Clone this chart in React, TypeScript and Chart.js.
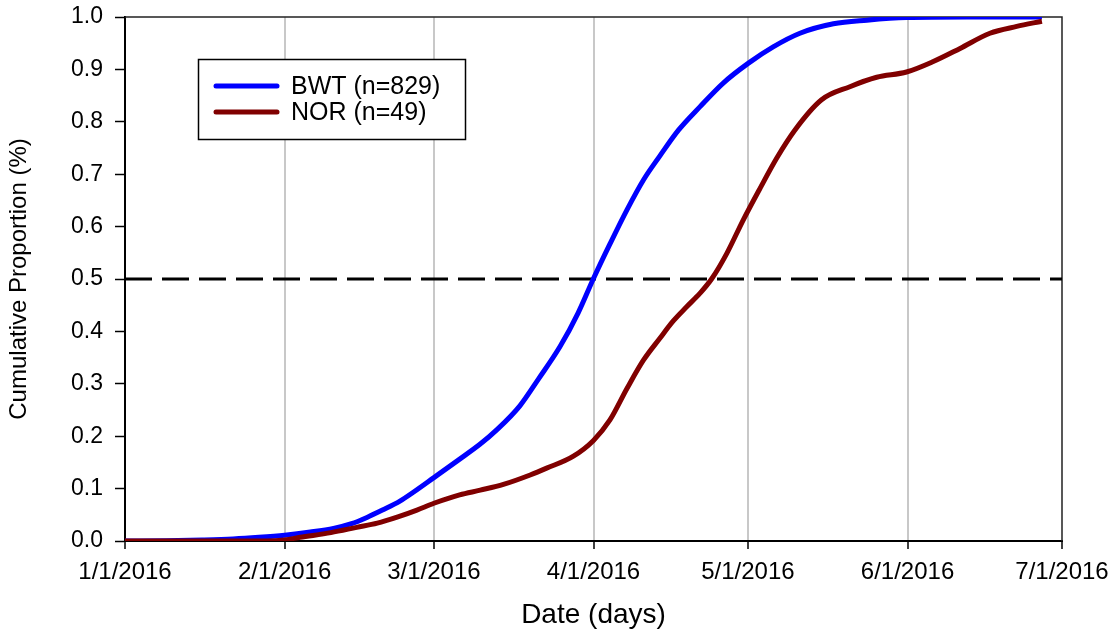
import React, { useEffect, useRef } from "react";
import { Chart, registerables } from "chart.js";

Chart.register(...registerables);

const xTickDays = [0, 31, 60, 91, 121, 152, 182];
const xTickLabels = ["1/1/2016", "2/1/2016", "3/1/2016", "4/1/2016", "5/1/2016", "6/1/2016", "7/1/2016"];

const seriesLabels = ["BWT (n=829)", "NOR (n=49)"];
const seriesColors = ["#0000ff", "#800000"];

const bwtDays = [0, 8, 15, 21, 26, 31, 36, 40.5, 44, 47, 50, 53.4, 56, 60, 64.4, 69, 72.2, 76.7, 80.3, 84.5, 88, 91, 94.2, 97.5, 100.7, 103.9, 107.5, 111.7, 116.2, 121.1, 125.9, 131.1, 137.6, 144.1, 151.8, 163.5, 178.1];
const bwtValues = [0, 0.0005, 0.002, 0.004, 0.007, 0.011, 0.017, 0.024, 0.033, 0.045, 0.059, 0.076, 0.093, 0.121, 0.152, 0.185, 0.212, 0.258, 0.309, 0.371, 0.435, 0.501, 0.567, 0.632, 0.689, 0.735, 0.784, 0.829, 0.874, 0.912, 0.943, 0.969, 0.987, 0.994, 0.999, 1.0, 1.0];

const norDays = [0, 15, 27.5, 31, 34, 40, 45, 49, 53, 56.7, 60, 65, 69, 73.5, 78.7, 81.9, 87.1, 91, 94.2, 97.5, 100.7, 103.9, 106.5, 109.1, 111.7, 114, 116.9, 120.1, 123.4, 126.6, 130.1, 135.3, 140.8, 146, 151.8, 157, 162.2, 168, 173.2, 178.1];
const norValues = [0, 0, 0, 0.002, 0.007, 0.016, 0.026, 0.034, 0.046, 0.059, 0.072, 0.088, 0.097, 0.108, 0.126, 0.139, 0.162, 0.192, 0.231, 0.291, 0.345, 0.387, 0.42, 0.447, 0.473, 0.501, 0.549, 0.613, 0.674, 0.731, 0.784, 0.842, 0.867, 0.885, 0.895, 0.915, 0.94, 0.969, 0.982, 0.992];

const refDays = [0, 182];
const refValues = [0.5, 0.5];

const FONT = "'Liberation Sans', Arial, sans-serif";

const toPoints = (xs: number[], ys: number[]) => xs.map((x, i) => ({ x, y: ys[i] }));

const zeroPad = (scale: any) => {
  scale.paddingTop = 0;
  scale.paddingBottom = 0;
  scale.paddingLeft = 0;
  scale.paddingRight = 0;
};

const framePlugin = {
  id: "frame",
  beforeDatasetsDraw(chart: any) {
    const { ctx, chartArea } = chart;
    ctx.save();
    ctx.strokeStyle = "#222";
    ctx.lineWidth = 1.5;
    ctx.beginPath();
    ctx.moveTo(chartArea.left, chartArea.top);
    ctx.lineTo(chartArea.right, chartArea.top);
    ctx.lineTo(chartArea.right, chartArea.bottom);
    ctx.stroke();
    ctx.restore();
  },
};

const legendPlugin = {
  id: "boxLegend",
  afterDatasetsDraw(chart: any) {
    const { ctx } = chart;
    ctx.save();
    ctx.fillStyle = "#fff";
    ctx.fillRect(198, 59, 268, 80);
    ctx.strokeStyle = "#000";
    ctx.lineWidth = 1.5;
    ctx.strokeRect(198.5, 59.5, 267, 80);
    const rows = [86, 112];
    seriesLabels.forEach((label, i) => {
      const y = rows[i];
      ctx.strokeStyle = seriesColors[i];
      ctx.lineWidth = 5;
      ctx.lineCap = "round";
      ctx.beginPath();
      ctx.moveTo(216, y);
      ctx.lineTo(277, y);
      ctx.stroke();
      ctx.fillStyle = "#000";
      ctx.font = `25px ${FONT}`;
      ctx.textBaseline = "middle";
      ctx.textAlign = "left";
      ctx.fillText(label, 291, y + 1);
    });
    ctx.restore();
  },
};

export default function App() {
  const canvasRef = useRef<HTMLCanvasElement | null>(null);

  useEffect(() => {
    document.body.style.margin = "0";
    const canvas = canvasRef.current;
    if (!canvas) return;
    const chart = new Chart(canvas, {
      type: "line",
      data: {
        datasets: [
          {
            label: seriesLabels[0],
            data: toPoints(bwtDays, bwtValues),
            borderColor: seriesColors[0],
            borderWidth: 5,
            pointRadius: 0,
            cubicInterpolationMode: "monotone",
            fill: false,
            order: 2,
          },
          {
            label: seriesLabels[1],
            data: toPoints(norDays, norValues),
            borderColor: seriesColors[1],
            borderWidth: 5,
            pointRadius: 0,
            cubicInterpolationMode: "monotone",
            fill: false,
            order: 1,
          },
          {
            label: "ref",
            data: toPoints(refDays, refValues),
            borderColor: "#000",
            borderWidth: 3,
            borderDash: [27, 10],
            pointRadius: 0,
            fill: false,
            order: 3,
          },
        ],
      },
      options: {
        responsive: false,
        animation: false,
        layout: { padding: { top: 17, right: 53, left: 0, bottom: 0 } },
        plugins: {
          legend: { display: false },
          tooltip: { enabled: false },
        },
        scales: {
          x: {
            type: "linear",
            min: 0,
            max: 182,
            afterBuildTicks: (scale: any) => {
              scale.ticks = xTickDays.map((v) => ({ value: v }));
            },
            afterFit: (scale: any) => {
              scale.height = 91;
              zeroPad(scale);
            },
            ticks: {
              autoSkip: false,
              maxRotation: 0,
              minRotation: 0,
              padding: 9,
              color: "#000",
              font: { family: FONT, size: 24 },
              callback: (_v: any, i: number) => xTickLabels[i],
            },
            grid: {
              drawOnChartArea: true,
              color: (c: any) => (c.index > 0 && c.index < xTickDays.length - 1 ? "#c8c8c8" : "rgba(0,0,0,0)"),
              lineWidth: 2,
              tickColor: "#000",
              tickLength: 8,
              tickWidth: 1.5,
            },
            border: { display: true, color: "#000", width: 2 },
            title: {
              display: true,
              text: "Date (days)",
              color: "#000",
              font: { family: FONT, size: 28 },
              padding: { top: 0, bottom: 0 },
            },
          },
          y: {
            type: "linear",
            min: 0,
            max: 1,
            afterFit: (scale: any) => {
              scale.width = 125;
              zeroPad(scale);
            },
            ticks: {
              stepSize: 0.1,
              padding: 12,
              color: "#000",
              font: { family: FONT, size: 23 },
              callback: (v: any) => Number(v).toFixed(1),
            },
            grid: {
              drawOnChartArea: false,
              tickColor: "#000",
              tickLength: 10,
              tickWidth: 1.5,
            },
            border: { display: true, color: "#000", width: 2 },
            title: {
              display: true,
              text: "Cumulative Proportion (%)",
              color: "#000",
              font: { family: FONT, size: 24 },
              padding: { top: 5, bottom: 0 },
            },
          },
        },
      },
      plugins: [framePlugin, legendPlugin],
    });
    return () => chart.destroy();
  }, []);

  return (
    <div style={{ width: 1115, height: 632, background: "#fff" }}>
      <canvas ref={canvasRef} width={1115} height={632} style={{ display: "block" }} />
    </div>
  );
}
